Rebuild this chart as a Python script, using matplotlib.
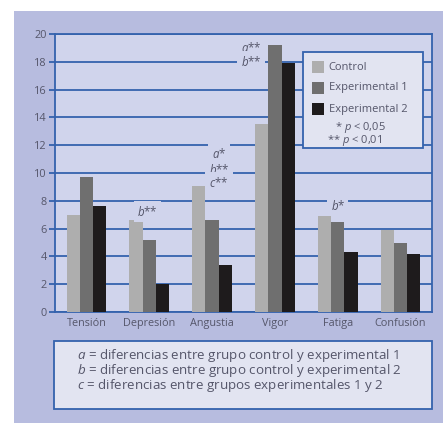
import numpy as np
import matplotlib; matplotlib.use("Agg")
import matplotlib.pyplot as plt
from matplotlib.patches import Rectangle

plt.rcParams["font.family"] = ["Open Sans", "DejaVu Sans"]
plt.rcParams["mathtext.fontset"] = "custom"
plt.rcParams["mathtext.it"] = "Open Sans:italic"
plt.rcParams["mathtext.rm"] = "Open Sans"

categories = ["Tensión", "Depresión", "Angustia", "Vigor", "Fatiga", "Confusión"]
control = [7.0, 6.6, 9.1, 13.5, 6.9, 5.9]
exp1 = [9.7, 5.2, 6.6, 19.2, 6.5, 5.0]
exp2 = [7.6, 2.0, 3.4, 17.9, 4.3, 4.2]
series_names = ["Control", "Experimental 1", "Experimental 2"]
# significance marks: (category index, letter, stars, y)
marks = [(1, "b", "**", 7.2),
         (2, "a", "*", 11.4), (2, "b", "**", 10.2), (2, "c", "**", 9.3),
         (3, "a", "**", 19.0), (3, "b", "**", 18.0),
         (4, "b", "*", 7.65)]
mark_dx = {1: -0.03, 2: 0.11, 3: -0.38, 4: 0.0}
notes = [("a", "diferencias entre grupo control y experimental 1"),
         ("b", "diferencias entre grupo control y experimental 2"),
         ("c", "diferencias entre grupos experimentales 1 y 2")]

BLUE = "#3462ad"
PANEL = "#b7bcdf"
INNER = "#d0d4ec"
BOX = "#e2e4f1"
TXT = "#55566a"
COLS = ["#aeaeae", "#6f6f6f", "#1e1b1c"]

W, H = 443, 426
fig = plt.figure(figsize=(W / 100, H / 100), dpi=100)
fig.patch.set_facecolor("white")
fig.patches.append(Rectangle((14 / W, 3 / H), 1, (423 - 11) / H, transform=fig.transFigure,
                             fc=PANEL, ec="none", zorder=-5))

ax = fig.add_axes([55 / W, (H - 312) / H, 377 / W, 278 / H])
ax.set_zorder(2)
ax.set_facecolor(INNER)
x = np.arange(len(categories))
bw = 0.21
for k, (vals, c) in enumerate(zip([control, exp1, exp2], COLS)):
    ax.bar(x + (k - 1) * bw, vals, bw, color=c, zorder=3, label=series_names[k])

ax.set_xlim(-0.5, len(categories) - 0.5)
ax.set_ylim(0, 20)
ax.set_yticks(np.arange(0, 21, 2))
ax.yaxis.grid(True, color=BLUE, lw=1.3, zorder=1)
ax.set_axisbelow(True)
for s in ax.spines.values():
    s.set_color(BLUE); s.set_linewidth(1.3)
ax.tick_params(axis="y", colors=BLUE, length=4, width=1.3, labelsize=7.8, labelcolor=TXT, pad=2)
ax.tick_params(axis="x", length=0, labelsize=7.8, labelcolor=TXT, pad=4)
ax.set_xticks(x)
ax.set_xticklabels(categories)

for ci, let, st, y in marks:
    ax.text(ci + mark_dx[ci], y, f"${let}$" + st, ha="center", va="center", fontsize=8.3,
            color=TXT, zorder=4,
            bbox=dict(boxstyle="square,pad=0.3", fc=INNER, ec="none"))

# legend block
ax.add_patch(Rectangle((0.658, 0.59), 0.318, 0.345, transform=ax.transAxes,
                       fc=BOX, ec=BLUE, lw=1.3, zorder=5))
ly = [0.881, 0.806, 0.730]
for k in range(3):
    ax.add_patch(Rectangle((0.682, ly[k] - 0.022), 0.031, 0.044, transform=ax.transAxes,
                           fc=COLS[k], ec="none", zorder=6))
    ax.text(0.726, ly[k], series_names[k], transform=ax.transAxes, fontsize=8.0,
            color=TXT, va="center", zorder=6)
ax.text(0.742, 0.665, "* $p$ < 0,05", transform=ax.transAxes, fontsize=8.0,
        color=TXT, va="center", ha="left", zorder=6)
ax.text(0.722, 0.617, "** $p$ < 0,01", transform=ax.transAxes, fontsize=8.0,
        color=TXT, va="center", ha="left", zorder=6)

# footnote box
fig.patches.append(Rectangle((54 / W, (H - 409) / H), (432 - 54) / W, (409 - 341) / H,
                             transform=fig.transFigure, fc=BOX, ec=BLUE, lw=1.3, zorder=1))
for i, (let, txt) in enumerate(notes):
    fig.text(77 / W, (H - (355 + 15.5 * i)) / H, f"${let}$ = " + txt, fontsize=9.6,
             color=TXT, va="center", ha="left", zorder=2)

fig.savefig("out.png", dpi=100)
